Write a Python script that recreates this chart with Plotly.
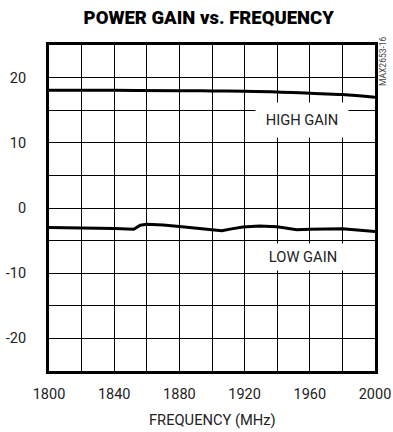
import plotly.graph_objects as go

# Power gain (dB) versus frequency (MHz) for the two gain modes
high_freq = [1800, 1840, 1880, 1900, 1920, 1940, 1960, 1980, 2000]
high_gain = [18.05, 18.05, 18.0, 17.95, 17.9, 17.8, 17.6, 17.4, 17.0]

low_freq = [1800, 1820, 1840, 1852, 1856, 1860, 1870, 1880, 1893, 1906,
            1912, 1919, 1929, 1940, 1952, 1960, 1980, 1990, 2000]
low_gain = [-3.0, -3.05, -3.15, -3.27, -2.65, -2.5, -2.6, -2.85, -3.15, -3.5,
            -3.2, -2.9, -2.76, -2.87, -3.35, -3.27, -3.2, -3.35, -3.6]

x_grid = list(range(1800, 2001, 20))
x_labels = [str(v) if (v - 1800) % 40 == 0 else "" for v in x_grid]
y_grid = list(range(-25, 26, 5))
y_labels = [str(v) if v % 10 == 0 else "" for v in y_grid]

FONT = "Roboto, Liberation Sans, sans-serif"

fig = go.Figure()
fig.add_trace(go.Scatter(x=high_freq, y=high_gain, mode="lines",
                         line=dict(color="black", width=3, shape="spline"),
                         showlegend=False))
fig.add_trace(go.Scatter(x=low_freq, y=low_gain, mode="lines",
                         line=dict(color="black", width=3),
                         showlegend=False))

axis_common = dict(showgrid=True, gridcolor="black", gridwidth=1,
                   showline=True, linecolor="black", linewidth=3, mirror=True,
                   zeroline=False, ticks="", ticklabeloverflow="allow",
                   automargin=False,
                   tickfont=dict(family=FONT, size=14.5, color="#222"),
                   fixedrange=True)

fig.update_xaxes(range=[1800, 2000], tickmode="array", tickvals=x_grid,
                 ticktext=x_labels, ticklabelstandoff=8, **axis_common)
fig.update_yaxes(range=[-25, 25], tickmode="array", tickvals=y_grid,
                 ticktext=y_labels, ticklabelstandoff=17, **axis_common)

fig.update_layout(
    width=393, height=432,
    margin=dict(l=49, r=18, t=45, b=61),
    paper_bgcolor="white", plot_bgcolor="white",
    title=dict(text="POWER GAIN vs. FREQUENCY",
               font=dict(family=FONT, size=18.5, color="black", weight=900),
               x=0.49, xanchor="center", y=1 - 18 / 432, yanchor="middle",
               xref="paper", yref="container"),
)

fig.add_annotation(text="FREQUENCY (MHz)", x=0.5, y=0, xref="paper", yref="paper",
                   yshift=-49, showarrow=False, yanchor="middle",
                   font=dict(family=FONT, size=14.7, color="#222"))

fig.add_annotation(text="HIGH GAIN", x=1955, y=13.5, xref="x", yref="y",
                   showarrow=False, bgcolor="white", width=80, height=22,
                   borderpad=6, font=dict(family=FONT, size=14.7, color="#222"))
fig.add_annotation(text="LOW GAIN", x=1956, y=-7.5, xref="x", yref="y",
                   showarrow=False, bgcolor="white", width=72, height=18,
                   borderpad=4, font=dict(family=FONT, size=14.7, color="#222"))

fig.add_annotation(text="MAX2653-16", x=1, y=1, xref="paper", yref="paper",
                   xshift=8, yshift=-16, textangle=-90, showarrow=False,
                   xanchor="center", yanchor="middle",
                   font=dict(family=FONT, size=8.5, color="#444"))

fig.write_html("out.html")
